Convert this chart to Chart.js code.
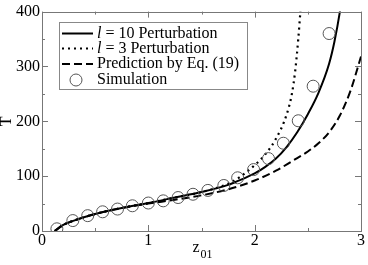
<!DOCTYPE html>
<html><head><meta charset="utf-8">
<script src="https://cdn.jsdelivr.net/npm/chart.js@4/dist/chart.umd.min.js"></script>
<style>html,body{margin:0;padding:0;background:#fff}#wrap{width:368px;height:265px}</style>
</head><body><div id="wrap"><canvas id="c"></canvas></div>
<script>
const xTicks = [0, 1, 2, 3];
const yTicks = [0, 100, 200, 300, 400];
const simX = [0.14, 0.29, 0.43, 0.57, 0.71, 0.85, 1.0, 1.14, 1.28, 1.42, 1.56, 1.71, 1.84, 1.99, 2.13, 2.27, 2.41, 2.55, 2.70];
const simT = [4, 19, 28, 35, 40, 46, 51, 55, 61, 67, 74, 83, 97, 112, 132, 160, 201, 264, 360];
const l10X = [0.12, 0.2, 0.3, 0.5, 0.75, 1.0, 1.25, 1.5, 1.75, 1.9, 2.0, 2.1, 2.2, 2.3, 2.4, 2.5, 2.6, 2.7, 2.75, 2.8, 2.83];
const l10T = [0, 11, 19, 31, 42, 51, 61, 71, 84, 96, 105, 117, 132, 153, 180, 213, 252, 305, 345, 398, 440];
const l3X = [0.12, 0.2, 0.3, 0.5, 0.75, 1.0, 1.25, 1.5, 1.75, 1.85, 2.0, 2.1, 2.2, 2.3, 2.35, 2.38, 2.41, 2.43, 2.45];
const l3T = [0, 11, 19, 31, 42, 51, 61, 71, 86, 97, 120, 140, 168, 212, 250, 290, 350, 400, 450];
const preX = [0.12, 0.2, 0.3, 0.5, 0.75, 1.0, 1.25, 1.5, 1.75, 2.0, 2.2, 2.4, 2.5, 2.6, 2.7, 2.8, 2.9, 3.0];
const preT = [0, 11, 19, 31, 42, 50, 57, 65, 76, 92, 110, 133, 145, 160, 180, 210, 255, 318];
const legendLabels = [["l", " = 10 Perturbation"], ["l", " = 3 Perturbation"], ["", "Prediction by Eq. (19)"], ["", "Simulation"]];

const pts = (xs, ys) => xs.map((x, i) => ({x: x, y: ys[i]}));
const SERIF = '"Liberation Serif", "DejaVu Serif", serif';

const framePlugin = {
  id: 'frame',
  afterDatasetsDraw(chart) {
    const {ctx, chartArea: a, scales: {x, y}} = chart;
    ctx.save();
    ctx.strokeStyle = '#777';
    ctx.lineWidth = 1;
    ctx.strokeRect(Math.round(a.left) + 0.5, Math.round(a.top) + 0.5, Math.round(a.right - a.left), Math.round(a.bottom - a.top));
    ctx.beginPath();
    for (let v = 0; v <= 3.0001; v += 0.5) {
      const px = Math.round(x.getPixelForValue(v)) + 0.5;
      const len = (Math.abs(v - Math.round(v)) < 1e-6) ? 6 : 3;
      ctx.moveTo(px, a.bottom); ctx.lineTo(px, a.bottom - len);
      ctx.moveTo(px, a.top); ctx.lineTo(px, a.top + len);
    }
    for (let v = 0; v <= 400; v += 50) {
      const py = Math.round(y.getPixelForValue(v)) + 0.5;
      const len = (v % 100 === 0) ? 6 : 3;
      ctx.moveTo(a.left, py); ctx.lineTo(a.left + len, py);
      ctx.moveTo(a.right, py); ctx.lineTo(a.right - len, py);
    }
    ctx.stroke();
    ctx.restore();
  },
  afterDraw(chart) {
    const {ctx, chartArea: a} = chart;
    ctx.save();
    ctx.fillStyle = '#000';
    ctx.font = '16px ' + SERIF;
    ctx.textBaseline = 'alphabetic';
    const cx = (a.left + a.right) / 2;
    ctx.textAlign = 'left';
    ctx.fillText('z', cx - 9, 252);
    ctx.font = '12px ' + SERIF;
    ctx.fillText('01', cx - 1, 258);
    ctx.save();
    ctx.translate(11, (a.top + a.bottom) / 2);
    ctx.rotate(-Math.PI / 2);
    ctx.font = '16px ' + SERIF;
    ctx.textAlign = 'center';
    ctx.fillText('T', 0, 0);
    ctx.restore();
    const bx = 59.5, by = 22.5, bw = 188, bh = 67;
    ctx.fillStyle = '#fff';
    ctx.fillRect(bx, by, bw, bh);
    ctx.strokeStyle = '#888';
    ctx.lineWidth = 1;
    ctx.strokeRect(bx, by, bw, bh);
    const rows = [33.5, 48.5, 64, 80];
    const ds = chart.data.datasets;
    const order = [1, 2, 3, 0];
    order.forEach((di, i) => {
      const d = ds[di];
      const yy = rows[i];
      ctx.strokeStyle = d.borderColor;
      if (di === 0) {
        ctx.lineWidth = 1;
        ctx.setLineDash([]);
        ctx.beginPath();
        ctx.arc(76, yy, 6, 0, Math.PI * 2);
        ctx.stroke();
      } else {
        ctx.lineWidth = d.borderWidth;
        ctx.setLineDash(d.borderDash || []);
        ctx.beginPath();
        ctx.moveTo(62, yy); ctx.lineTo(93, yy);
        ctx.stroke();
      }
      ctx.setLineDash([]);
      ctx.fillStyle = '#000';
      ctx.textBaseline = 'middle';
      ctx.textAlign = 'left';
      let tx = 97;
      const lab = legendLabels[i];
      if (lab[0]) {
        ctx.font = 'italic 16px ' + SERIF;
        ctx.fillText(lab[0], tx, yy);
        tx += ctx.measureText(lab[0]).width;
      }
      ctx.font = '16px ' + SERIF;
      ctx.fillText(lab[1], tx, yy);
    });
    ctx.restore();
  }
};

new Chart(document.getElementById('c'), {
  type: 'scatter',
  data: {
    datasets: [
      {label: 'Simulation', data: pts(simX, simT), showLine: false, pointRadius: 6, pointStyle: 'circle',
       borderColor: '#555', backgroundColor: 'rgba(0,0,0,0)', borderWidth: 1},
      {label: 'l = 10 Perturbation', data: pts(l10X, l10T), showLine: true, pointRadius: 0, borderColor: '#000',
       borderWidth: 2, cubicInterpolationMode: 'monotone'},
      {label: 'l = 3 Perturbation', data: pts(l3X, l3T), showLine: true, pointRadius: 0, borderColor: '#000',
       borderWidth: 2.2, borderDash: [2, 4], cubicInterpolationMode: 'monotone'},
      {label: 'Prediction by Eq. (19)', data: pts(preX, preT), showLine: true, pointRadius: 0, borderColor: '#000',
       borderWidth: 2, borderDash: [8, 4], cubicInterpolationMode: 'monotone'}
    ]
  },
  options: {
    responsive: true, maintainAspectRatio: false, animation: false,
    layout: {padding: {top: 7, right: 5, left: 0, bottom: 0}},
    plugins: {legend: {display: false}, tooltip: {enabled: false}},
    scales: {
      x: {type: 'linear', min: 0, max: 3,
          afterBuildTicks: s => { s.ticks = xTicks.map(v => ({value: v})); },
          afterFit: s => { s.height = 34; },
          ticks: {font: {family: SERIF, size: 16}, color: '#000', padding: 0, maxRotation: 0},
          grid: {display: false, drawTicks: false}, border: {display: false}},
      y: {min: 0, max: 400,
          afterBuildTicks: s => { s.ticks = yTicks.map(v => ({value: v})); },
          afterFit: s => { s.width = 42; },
          ticks: {font: {family: SERIF, size: 16}, color: '#000', padding: 2},
          grid: {display: false, drawTicks: false}, border: {display: false}}
    }
  },
  plugins: [framePlugin]
});
</script></body></html>
